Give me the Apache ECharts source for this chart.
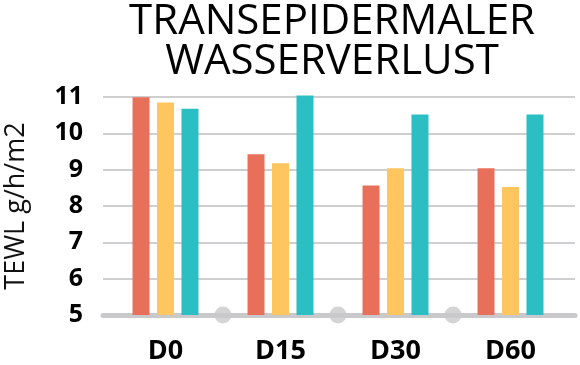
<!DOCTYPE html>
<html>
<head>
<meta charset="utf-8">
<script src="https://cdn.jsdelivr.net/npm/echarts@6/dist/echarts.min.js"></script>
<style>html,body{margin:0;padding:0;background:#fff}#c{width:580px;height:365px}</style>
</head>
<body>
<div id="c"></div>
<script>
var categories = ['D0', 'D15', 'D30', 'D60'];
var seriesRed = [10.98, 9.42, 8.56, 9.03];
var seriesYellow = [10.84, 9.17, 9.03, 8.52];
var seriesTeal = [10.67, 11.03, 10.51, 10.51];
var dividerDots = [1, 2, 3];
var yMin = 5, yMax = 11, yStep = 1;
var titleText = 'TRANSEPIDERMALER\nWASSERVERLUST';
var yName = 'TEWL g/h/m2';

var chart = echarts.init(document.getElementById('c'), null, {renderer: 'canvas'});
var font = 'Open Sans';
var barCommon = {type: 'bar', xAxisIndex: 1, yAxisIndex: 1, barWidth: 17, barGap: '44%', z: 3};
chart.setOption({
  animation: false,
  backgroundColor: '#fff',
  title: {
    text: titleText, left: 327, top: -3, textAlign: 'center',
    textStyle: {fontFamily: font, fontWeight: 'normal', fontSize: 42, lineHeight: 40, color: '#000'}
  },
  grid: [
    {left: 103, right: 5, top: 97, bottom: 50, outerBoundsMode: 'none'},
    {left: 108, right: 12, top: 93, bottom: 50, outerBoundsMode: 'none'}
  ],
  xAxis: [
    {gridIndex: 0, type: 'value', min: 0, max: 1, axisLabel: {show: false}, axisTick: {show: false}, splitLine: {show: false},
     axisLine: {show: true, lineStyle: {color: '#c9c9cb', width: 5}}, z: 2},
    {gridIndex: 1, type: 'category', data: categories, axisLine: {show: false}, axisTick: {show: false}, splitLine: {show: false},
     axisLabel: {margin: 23, fontFamily: font, fontWeight: 'bold', fontSize: 27, color: '#000'}},
    {gridIndex: 1, type: 'value', min: 0, max: 4, show: false}
  ],
  yAxis: [
    {gridIndex: 0, type: 'value', min: yMin, max: yMax, interval: yStep,
     name: yName, nameLocation: 'middle', nameGap: 73, nameRotate: 90, nameMoveOverlap: false,
     nameTextStyle: {fontFamily: font, fontWeight: 'normal', fontSize: 27, color: '#111'},
     axisLine: {show: false}, axisTick: {show: false},
     axisLabel: {margin: 20, fontFamily: font, fontWeight: 'bold', fontSize: 25, color: '#000'},
     splitLine: {show: true, lineStyle: {color: '#cfcfd1', width: 2}}},
    {gridIndex: 1, type: 'value', min: yMin, max: yMax + 0.1, show: false, splitLine: {show: false}}
  ],
  series: [
    Object.assign({}, barCommon, {name: 'a', data: seriesRed, itemStyle: {color: '#e8705a'}}),
    Object.assign({}, barCommon, {name: 'b', data: seriesYellow, itemStyle: {color: '#ffc65f'}}),
    Object.assign({}, barCommon, {name: 'c', data: seriesTeal, itemStyle: {color: '#2bbfc3'}}),
    {type: 'scatter', xAxisIndex: 2, yAxisIndex: 1, clip: false, symbolSize: 17, z: 4,
     itemStyle: {color: '#c9c9cb'}, data: dividerDots.map(function (d) { return [d, yMin]; })}
  ]
});
</script>
</body>
</html>
